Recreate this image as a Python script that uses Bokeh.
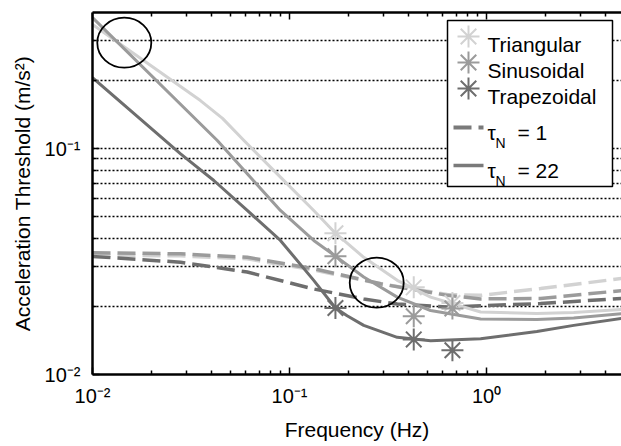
from bokeh.plotting import figure
from bokeh.models import FixedTicker, LogAxis, Range1d, LinearScale
from bokeh.embed import file_html
from bokeh.resources import INLINE
from bokeh.core.properties import value

# ---------------- data ----------------
marker_freq = [0.171, 0.427, 0.671]
tri_marker_acc = [0.0422, 0.0243, 0.0207]
sin_marker_acc = [0.0334, 0.0181, 0.0196]
trap_marker_acc = [0.0197, 0.0143, 0.0128]

tri22_freq = [0.01, 0.0353, 0.0457, 0.0587, 0.0899, 0.1327, 0.171, 0.238, 0.352, 0.520, 0.933, 1.8, 2.77, 4.84]
tri22_acc = [0.354, 0.163, 0.136, 0.1085, 0.0747, 0.0532, 0.0422, 0.0330, 0.0261, 0.0220, 0.0189, 0.0186, 0.0188, 0.0194]

sin22_freq = [0.01, 0.043, 0.061, 0.0899, 0.1327, 0.171, 0.238, 0.352, 0.520, 0.933, 1.8, 2.77, 4.84]
sin22_acc = [0.38, 0.1085, 0.0773, 0.0532, 0.0392, 0.0334, 0.0270, 0.0220, 0.0192, 0.0176, 0.0175, 0.0178, 0.0186]

trap22_freq = [0.01, 0.028, 0.0413, 0.061, 0.0899, 0.1327, 0.171, 0.196, 0.238, 0.352, 0.520, 0.933, 1.8, 2.77, 4.84]
trap22_acc = [0.206, 0.0947, 0.0722, 0.0532, 0.0392, 0.0261, 0.0197, 0.0182, 0.0165, 0.0146, 0.0141, 0.0144, 0.0155, 0.0165, 0.0177]

tri1_freq = [0.01, 0.028, 0.061, 0.1327, 0.290, 0.632, 0.933, 1.88, 4.84]
tri1_acc = [0.0337, 0.0335, 0.0325, 0.0290, 0.0252, 0.0226, 0.0224, 0.024, 0.0266]
sin1_freq = [0.01, 0.028, 0.061, 0.1327, 0.290, 0.632, 0.933, 1.88, 4.84]
sin1_acc = [0.0346, 0.0342, 0.0330, 0.0294, 0.0252, 0.0224, 0.0216, 0.0217, 0.0235]
trap1_freq = [0.01, 0.028, 0.061, 0.1327, 0.238, 0.352, 0.632, 1.88, 4.84]
trap1_acc = [0.0333, 0.0314, 0.0284, 0.0239, 0.0216, 0.0205, 0.0199, 0.0206, 0.0217]

circle_freq = [0.0145, 0.277]
circle_acc = [0.294, 0.0255]

x_major = [0.01, 0.1, 1]
x_minor = [0.02, 0.03, 0.04, 0.05, 0.06, 0.07, 0.08, 0.09,
           0.2, 0.3, 0.4, 0.5, 0.6, 0.7, 0.8, 0.9, 2, 3, 4]
x_labels = {0.01: "10⁻²", 0.1: "10⁻¹", 1: "10⁰"}
y_major = [0.01, 0.1]
y_minor = [0.02, 0.03, 0.04, 0.05, 0.06, 0.07, 0.08, 0.09, 0.2, 0.3]
y_labels = {0.01: "10⁻²", 0.1: "10⁻¹"}

series_names = ["Triangular", "Sinusoidal", "Trapezoidal"]
tau_labels = ["= 1", "= 22"]

# ---------------- style ----------------
LIGHT, MED, DARK = "#d2d2d2", "#9b9b9b", "#6e6e6e"
LEG_LINE = "#7a7a7a"
FONT = "Liberation Sans"
W, H = 621, 446
LEFT, TOP, BOTTOM = 92, 12, 72
FW, FH = W - LEFT, H - TOP - BOTTOM

p = figure(width=W, height=H, x_axis_type="log", y_axis_type="log",
           x_range=Range1d(0.01, 4.84), y_range=Range1d(0.01, 0.4),
           output_backend="svg", toolbar_location=None,
           min_border_left=LEFT, min_border_right=0,
           min_border_top=TOP, min_border_bottom=BOTTOM)
p.outline_line_color = None
p.background_fill_color = "white"
p.border_fill_color = "white"

xt = FixedTicker(ticks=x_major, minor_ticks=x_minor)
yt = FixedTicker(ticks=y_major, minor_ticks=y_minor)

def style_axis(ax):
    ax.axis_line_width = 2.5
    ax.axis_line_color = "black"
    ax.major_tick_in = 7
    ax.major_tick_out = 0
    ax.minor_tick_in = 4
    ax.minor_tick_out = 0
    ax.major_tick_line_width = 1.5
    ax.minor_tick_line_width = 1.5
    ax.major_tick_line_color = "black"
    ax.minor_tick_line_color = "black"
    ax.major_label_text_font = FONT
    ax.major_label_text_font_size = "20px"
    ax.major_label_text_color = "black"
    ax.axis_label_text_font = FONT
    ax.axis_label_text_font_size = "21px"
    ax.axis_label_text_font_style = "normal"
    ax.axis_label_text_color = "black"

p.xaxis.ticker = xt
p.yaxis.ticker = yt
p.xaxis.major_label_overrides = x_labels
p.yaxis.major_label_overrides = y_labels
style_axis(p.xaxis[0])
style_axis(p.yaxis[0])
p.xaxis.axis_label = "Frequency (Hz)"
p.yaxis.axis_label = "Acceleration Threshold (m/s²)"
p.xaxis.major_label_standoff = 10
p.yaxis.major_label_standoff = 12
p.xaxis.axis_label_standoff = 8
p.yaxis.axis_label_standoff = 8

top_ax = LogAxis(ticker=xt)
style_axis(top_ax)
top_ax.major_label_text_font_size = "1px"
top_ax.major_label_text_alpha = 0
top_ax.major_label_standoff = 0
p.add_layout(top_ax, "above")

p.xgrid.visible = False
p.ygrid.ticker = yt
p.ygrid.grid_line_color = "black"
p.ygrid.grid_line_dash = "2 2"
p.ygrid.grid_line_width = 1.5
p.ygrid.minor_grid_line_color = "black"
p.ygrid.minor_grid_line_dash = "2 2"
p.ygrid.minor_grid_line_width = 1.5

# dashed curves (tau_N = 1)
for fx, ay, c in [(tri1_freq, tri1_acc, LIGHT), (sin1_freq, sin1_acc, MED), (trap1_freq, trap1_acc, DARK)]:
    p.line(fx, ay, line_color=c, line_width=3.5, line_dash="18 7")
# solid curves (tau_N = 22)
for fx, ay, c in [(tri22_freq, tri22_acc, LIGHT), (sin22_freq, sin22_acc, MED), (trap22_freq, trap22_acc, DARK)]:
    p.line(fx, ay, line_color=c, line_width=3, line_join="round")
# markers
for ay, c in [(tri_marker_acc, LIGHT), (sin_marker_acc, MED), (trap_marker_acc, DARK)]:
    p.scatter(marker_freq, ay, marker="asterisk", size=22, line_color=c, line_width=2)
# black circles
p.ellipse(circle_freq, circle_acc, width=54, height=50, width_units="screen",
          height_units="screen", fill_color=None, line_color="black", line_width=1.8)

# ---------------- legend drawn in a pixel overlay ----------------
p.extra_x_ranges = {"px": Range1d(0, FW)}
p.extra_y_ranges = {"py": Range1d(0, FH)}
p.extra_x_scales = {"px": LinearScale()}
p.extra_y_scales = {"py": LinearScale()}
kw = dict(x_range_name="px", y_range_name="py")

p.quad(left=[355], right=[520], bottom=[188], top=[354], fill_color="white",
       line_color="black", line_width=1.5, **kw)
for yy, c in zip([338, 312, 286], [LIGHT, MED, DARK]):
    p.scatter([376], [yy], marker="asterisk", size=22, line_color=c, line_width=2, **kw)
p.text([395] * 3, [330, 304, 278], text=series_names, text_font=value(FONT),
       text_font_size="21px", text_baseline="alphabetic", text_color="black", **kw)
p.segment([361], [247], [391], [247], line_color=LEG_LINE, line_width=4, line_dash="18 7", **kw)
p.segment([361], [209], [391], [209], line_color=LEG_LINE, line_width=3.5, **kw)
p.text([395, 395], [242, 204], text=["τ", "τ"], text_font=value(FONT),
       text_font_size="21px", text_baseline="alphabetic", text_color="black", **kw)
p.text([403, 403], [232, 194], text=["N", "N"], text_font=value(FONT),
       text_font_size="14px", text_baseline="alphabetic", text_color="black", **kw)
p.text([425, 425], [242, 204], text=tau_labels, text_font=value(FONT),
       text_font_size="21px", text_baseline="alphabetic", text_color="black", **kw)

open("out.html", "w").write(file_html(p, INLINE))
